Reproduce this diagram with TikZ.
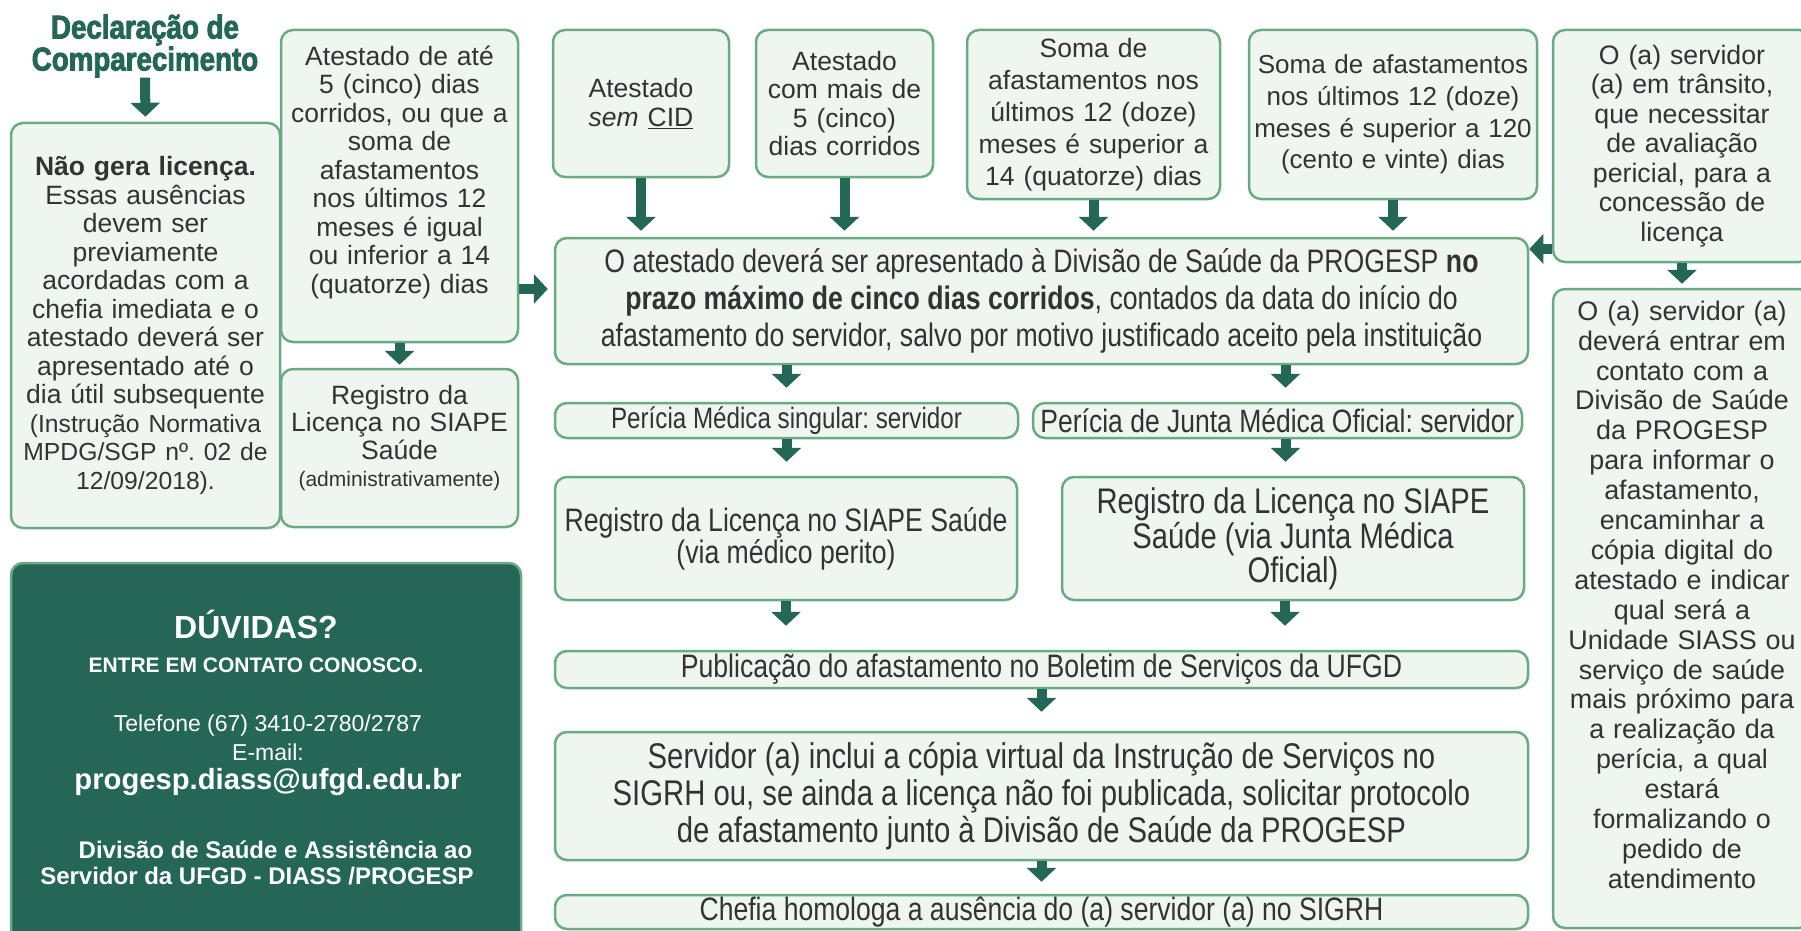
\documentclass[tikz,border=0pt]{standalone}
\usepackage{fontspec}
\setmainfont{Liberation Sans}
\newfontfamily\narrowfont[FakeStretch=0.82]{Liberation Sans}
\newfontfamily\condfont[FakeStretch=0.84, FakeBold=2.5]{Liberation Sans}
\usetikzlibrary{arrows.meta}
\frenchspacing

\definecolor{dkgreen}{HTML}{256756}
\definecolor{boxline}{HTML}{6AAB83}
\definecolor{boxfill}{HTML}{EEF6EF}
\definecolor{txt}{HTML}{333333}

\newcommand{\stdsize}{\fontsize{26.5}{28.5}\selectfont}
\newcommand{\narrowsize}[2]{\narrowfont\fontsize{#1}{#2}\selectfont\fontdimen2\font=\dimexpr #1pt*228/1000\relax}

\tikzset{box/.style = {draw=boxline, fill=boxfill, line width=2.5pt, rounded corners=12pt, text=txt, align=center, inner sep=0pt}}
\tikzset{darkbox/.style = {draw=boxline, fill=dkgreen, line width=2.5pt, rounded corners=12pt, inner sep=0pt}}
\tikzset{wtext/.style = {text=white, inner sep=0pt, align=center}}
\tikzset{arr/.style = {draw=dkgreen, line width=10pt, -{Triangle[width=29pt,length=14pt]}}}

\begin{document}
\begin{tikzpicture}[x=1pt, y=-1pt]
\fill[white] (0,0) rectangle (1801,931);
\useasboundingbox (0,0) rectangle (1801,931);

% titulo
\node[text=dkgreen, align=center, inner sep=0pt, font=\condfont\bfseries\fontsize{33}{32}\selectfont] (title) at (145,46) {Declaração de\\Comparecimento};

% coluna da esquerda
\node[box, minimum width=269pt, minimum height=405pt, text width=262pt, font=\stdsize] (ngl) at (145.5,325.5) {\textbf{Não gera licença.}\\ Essas ausências\\ devem ser\\ previamente\\ acordadas com a\\ chefia imediata e o\\ atestado deverá ser\\ apresentado até o\\ dia útil subsequente\\ {\fontsize{24.7}{28.5}\selectfont (Instrução Normativa\\ MPDG/SGP nº. 02 de\\ 12/09/2018).}};
\node[box, minimum width=237pt, minimum height=312pt, text width=230pt, font=\stdsize] (at5) at (399.5,186) {Atestado de até\\ 5 (cinco) dias\\ corridos, ou que a\\ soma de\\ afastamentos\\ nos últimos 12\\ meses é igual\\ ou inferior a 14\\ (quatorze) dias\\[5pt]\mbox{}};
\node[box, minimum width=237pt, minimum height=158pt, text width=230pt, font=\fontsize{26.5}{27.5}\selectfont] (reg5) at (399.5,448) {Registro da\\ Licença no SIAPE\\ Saúde\\ {\fontsize{21}{27}\selectfont (administrativamente)}\\[-3pt]\mbox{}};

% entradas do topo
\node[box, minimum width=176pt, minimum height=147pt, text width=170pt, font=\stdsize] (cid) at (641,103.5) {Atestado\\ \textit{sem} \underline{CID}};
\node[box, minimum width=177pt, minimum height=147pt, text width=170pt, font=\stdsize] (m5) at (844.5,103.5) {Atestado\\ com mais de\\ 5 (cinco)\\ dias corridos};
\node[box, minimum width=253pt, minimum height=169pt, text width=246pt, font=\fontsize{26.5}{32}\selectfont] (s14) at (1093.5,114.5) {Soma de\\ afastamentos nos\\ últimos 12 (doze)\\ meses é superior a\\ 14 (quatorze) dias};
\node[box, minimum width=288pt, minimum height=169pt, text width=280pt, font=\fontsize{26}{31.7}\selectfont] (s120) at (1393,114.5) {Soma de afastamentos\\ nos últimos 12 (doze)\\ meses é superior a 120\\ (cento e vinte) dias};

% coluna da direita
\node[box, minimum width=258pt, minimum height=232pt, text width=250pt, font=\fontsize{26.7}{29.5}\selectfont] (trans) at (1682,146) {O (a) servidor\\ (a) em trânsito,\\ que necessitar\\ de avaliação\\ pericial, para a\\ concessão de\\ licença};
\node[box, minimum width=258pt, minimum height=639pt, text width=250pt, font=\fontsize{26.9}{29.9}\selectfont] (serv) at (1682,608.5) {O (a) servidor (a)\\ deverá entrar em\\ contato com a\\ Divisão de Saúde\\ da PROGESP\\ para informar o\\ afastamento,\\ encaminhar a\\ cópia digital do\\ atestado e indicar\\ qual será a\\ Unidade SIASS ou\\ serviço de saúde\\ mais próximo para\\ a realização da\\ perícia, a qual\\ estará\\ formalizando o\\ pedido de\\ atendimento\\[-2pt]\mbox{}};

% fluxo central
\node[box, minimum width=973pt, minimum height=126pt, font=\narrowsize{32.5}{37}] (main) at (1041.5,301) {O atestado deverá ser apresentado à Divisão de Saúde da PROGESP \textbf{no}\\ \textbf{prazo máximo de cinco dias corridos}, contados da data do início do\\ afastamento do servidor, salvo por motivo justificado aceito pela instituição};
\node[box, minimum width=463pt, minimum height=35pt, font=\narrowsize{29.5}{32}] (pms) at (786.5,420.5) {Perícia Médica singular: servidor};
\node[box, minimum width=489pt, minimum height=35pt, font=\narrowsize{32.3}{34}] (pjm) at (1277.5,420.5) {Perícia de Junta Médica Oficial: servidor};
\node[box, minimum width=462pt, minimum height=123pt, font=\narrowsize{32.5}{30}] (regmp) at (786,538.5) {Registro da Licença no SIAPE Saúde\\ (via médico perito)};
\node[box, minimum width=462pt, minimum height=123pt, font=\narrowsize{35.6}{31.7}] (regjm) at (1293,538.5) {Registro da Licença no SIAPE\\ Saúde (via Junta Médica\\ Oficial)};
\node[box, minimum width=973pt, minimum height=37pt, font=\narrowsize{32.5}{34}] (pub) at (1041.5,669.5) {Publicação do afastamento no Boletim de Serviços da UFGD};
\node[box, minimum width=973pt, minimum height=128pt, font=\narrowsize{35.7}{36.7}] (servinc) at (1041.5,796) {Servidor (a) inclui a cópia virtual da Instrução de Serviços no\\ SIGRH ou, se ainda a licença não foi publicada, solicitar protocolo\\ de afastamento junto à Divisão de Saúde da PROGESP};
\node[box, minimum width=973pt, minimum height=34pt, font=\narrowsize{32.4}{34}] (chefia) at (1041.5,912) {Chefia homologa a ausência do (a) servidor (a) no SIGRH};

% caixa de contato
\node[darkbox, minimum width=510pt, minimum height=397pt] (duv) at (266,761.5) {};
\node[wtext, font=\bfseries\fontsize{32}{34}\selectfont] (duvq) at (256,624) {DÚVIDAS?};
\node[wtext, font=\bfseries\fontsize{21}{24}\selectfont] (duvc) at (256,665) {ENTRE EM CONTATO CONOSCO.};
\node[wtext, font=\fontsize{23}{26}\selectfont] (tel) at (268,726) {Telefone (67) 3410-2780/2787};
\node[wtext, font=\fontsize{23}{26}\selectfont] (mail) at (268,752) {E-mail:};
\node[wtext, font=\bfseries\fontsize{29.2}{32}\selectfont] (email) at (268,782) {progesp.diass@ufgd.edu.br};
\node[wtext, font=\bfseries\fontsize{24}{26}\selectfont] (div1) at (275.5,850) {Divisão de Saúde e Assistência ao};
\node[wtext, font=\bfseries\fontsize{24}{26}\selectfont] (div2) at (257,876) {Servidor da UFGD - DIASS /PROGESP};

% setas
\draw[arr, shorten >=5pt] (title.south) -- (ngl.north);
\draw[arr, shorten >=3pt] (at5.south) -- (reg5.north);
\draw[arr, shorten >=6pt] ([yshift=-103pt]at5.east) -- ([yshift=-103pt]at5.east -| main.west);
\draw[arr, shorten >=6pt] (cid.south) -- (cid.south |- main.north);
\draw[arr, shorten >=6pt] (m5.south) -- (m5.south |- main.north);
\draw[arr, shorten >=6pt] (s14.south) -- (s14.south |- main.north);
\draw[arr, shorten >=6pt] (s120.south) -- (s120.south |- main.north);
\draw[arr] ([yshift=-103pt]trans.west) -- ([yshift=-103pt]trans.west -| main.east);
\draw[arr, shorten >=4pt] (trans.south) -- (serv.north);
\draw[arr, shorten >=14pt] (main.south -| pms.north) -- (pms.north);
\draw[arr, shorten >=14pt] ([xshift=8pt]main.south -| pjm.north) -- ([xshift=8pt]pjm.north);
\draw[arr, shorten >=14pt] (pms.south) -- (pms.south |- regmp.north);
\draw[arr, shorten >=14pt] ([xshift=8pt]pjm.south) -- ([xshift=8pt]pjm.south |- regjm.north);
\draw[arr, shorten >=24pt] (regmp.south) -- (regmp.south |- pub.north);
\draw[arr, shorten >=24pt] ([xshift=-8pt]regjm.south) -- ([xshift=-8pt]regjm.south |- pub.north);
\draw[arr, shorten >=19pt] (pub.south) -- (servinc.north);
\draw[arr, shorten >=12pt] (servinc.south) -- (chefia.north);
\end{tikzpicture}
\end{document}
